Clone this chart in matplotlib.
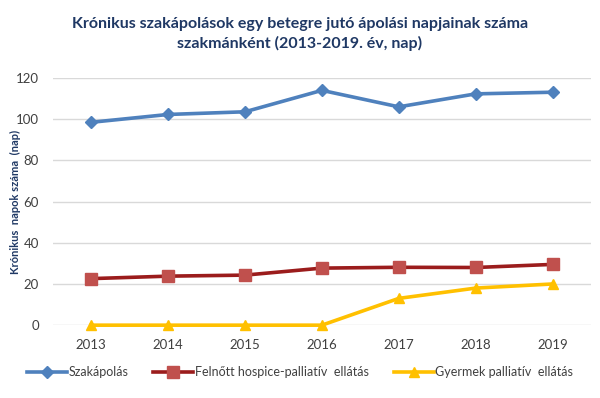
import matplotlib
matplotlib.use("Agg")
import matplotlib.pyplot as plt

years = ["2013", "2014", "2015", "2016", "2017", "2018", "2019"]
szakapolas = [98.5, 102.3, 103.6, 114.0, 106.0, 112.3, 113.1]
felnott = [22.6, 23.8, 24.3, 27.7, 28.1, 28.0, 29.5]
gyermek = [0, 0, 0, 0, 13.0, 18.0, 20.0]
series_names = ["Szakápolás", "Felnőtt hospice-palliatív  ellátás", "Gyermek palliatív  ellátás"]
yticks = [0, 20, 40, 60, 80, 100, 120]

plt.rcParams['font.family'] = ['Lato', 'DejaVu Sans']

fig = plt.figure(figsize=(6.0, 3.98), dpi=100)
ax = fig.add_axes([0.088, 0.183, 0.897, 0.621])

x = list(range(len(years)))
ax.plot(x, szakapolas, color="#4F81BD", lw=2.6, marker="D", ms=6, mfc="#4F81BD", mec="#4F81BD", label=series_names[0], zorder=3, clip_on=False)
ax.plot(x, felnott, color="#9B1C1C", lw=2.6, marker="s", ms=8, mfc="#C0504D", mec="#C0504D", label=series_names[1], zorder=3, clip_on=False)
ax.plot(x, gyermek, color="#FFC000", lw=2.6, marker="^", ms=7, mfc="#FFC000", mec="#FFC000", label=series_names[2], zorder=3, clip_on=False)

ax.set_xlim(-0.5, len(years) - 0.5)
ax.set_ylim(0, 120)
ax.set_xticks(x)
ax.set_xticklabels(years)
ax.set_yticks(yticks)
ax.grid(axis="y", color="#D9D9D9", lw=1)
ax.set_axisbelow(True)
for s in ax.spines.values():
    s.set_visible(False)
ax.tick_params(axis="both", length=0, labelsize=9.5, colors="#404040")
ax.tick_params(axis="x", pad=10)
ax.tick_params(axis="y", pad=10)

ax.set_ylabel("Krónikus  napok száma  (nap)", fontsize=8, fontweight="bold", color="#1F3864")
ax.yaxis.set_label_coords(-0.059, 0.5)

fig.text(0.5, 0.915, "Krónikus szakápolások egy betegre jutó ápolási napjainak száma\nszakmánként (2013-2019. év, nap)",
         ha="center", va="center", fontsize=11.5, fontweight="bold", color="#1F3864", linespacing=1.45)

leg = fig.legend(loc="center", bbox_to_anchor=(0.5, 0.065), ncol=3, frameon=False, fontsize=9,
                 handlelength=3.2, handletextpad=0.1, columnspacing=2.0)
for t in leg.get_texts():
    t.set_color("#404040")

fig.savefig("out.png", dpi=100)
